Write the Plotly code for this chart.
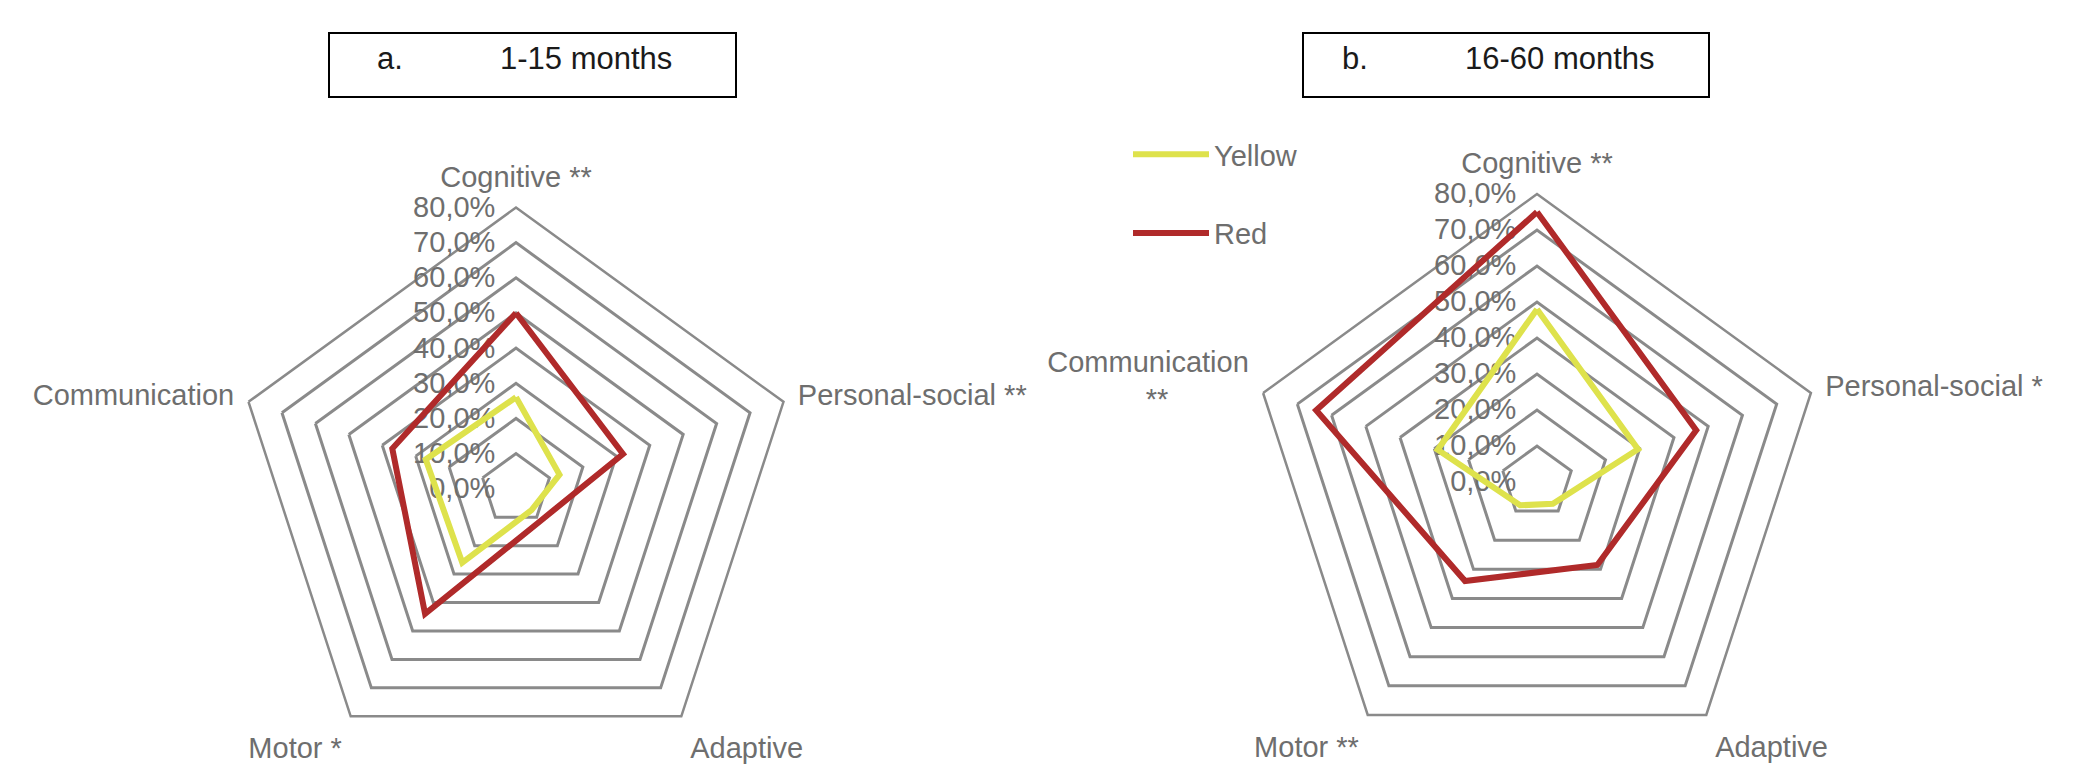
import plotly.graph_objects as go

# ---- data ----
cats_a = ["Cognitive **", "Personal-social **", "Adaptive", "Motor *", "Communication"]
yellow_a = [26, 13, 7.5, 26, 27]
red_a = [50, 32, 11.5, 44, 37]

NB = "\u00a0"
cats_b = ["Cognitive **", "Personal-social *", "Adaptive", "Motor **",
          "Communication<br>**" + NB * 10]
yellow_b = [48, 29.5, 7.5, 8, 29]
red_b = [75, 46.5, 28.5, 34, 64.5]

tick_vals = [0, 10, 20, 30, 40, 50, 60, 70, 80]
tick_text = ["0,0%", "10,0%", "20,0%", "30,0%", "40,0%", "50,0%", "60,0%", "70,0%", "80,0%"]
series_names = ["Yellow", "Red"]
panel_titles = [("a.", "1-15 months"), ("b.", "16-60 months")]

YELLOW = "#DEE24C"
RED = "#B02A2A"
GRID = "#8A8A8A"
LABEL = "#6E6E6E"
FONT = "Liberation Sans, Arial, sans-serif"

W, H = 2091, 770

def close(v):
    return list(v) + [v[0]]

fig = go.Figure()
for sub, cats, ys, rs, show in [("polar", cats_a, yellow_a, red_a, False),
                                ("polar2", cats_b, yellow_b, red_b, True)]:
    fig.add_trace(go.Scatterpolar(r=close(ys), theta=close(cats), mode="lines",
                                  line=dict(color=YELLOW, width=6), name=series_names[0],
                                  subplot=sub, showlegend=show, legendgroup="y"))
    fig.add_trace(go.Scatterpolar(r=close(rs), theta=close(cats), mode="lines",
                                  line=dict(color=RED, width=6), name=series_names[1],
                                  subplot=sub, showlegend=show, legendgroup="r"))

def polar_layout(cx, cy_top, R):
    cy = H - cy_top
    return dict(
        domain=dict(x=[(cx - R) / W, (cx + R) / W], y=[max(0, (cy - R)) / H, (cy + R) / H]),
        gridshape="linear",
        bgcolor="white",
        radialaxis=dict(range=[0, 80], tickvals=tick_vals, ticktext=tick_text,
                        angle=90, tickangle=90, side="counterclockwise", showline=False,
                        ticks="outside", ticklen=10, tickcolor="rgba(0,0,0,0)",
                        gridcolor=GRID, gridwidth=2.5, layer="below traces",
                        tickfont=dict(size=29, color=LABEL, family=FONT)),
        angularaxis=dict(rotation=90, direction="clockwise", showgrid=False,
                         showline=True, linecolor=GRID, linewidth=2.5,
                         ticks="outside", ticklen=8, tickcolor="rgba(0,0,0,0)",
                         layer="below traces",
                         tickfont=dict(size=29, color=LABEL, family=FONT)),
    )

fig.update_layout(
    width=W, height=H, autosize=False,
    margin=dict(l=0, r=0, t=0, b=0),
    paper_bgcolor="white", plot_bgcolor="white",
    polar=polar_layout(516, 489, 281.5),
    polar2=polar_layout(1537, 482, 288),
    legend=dict(x=1128 / W, y=1 - 129 / H, xanchor="left", yanchor="top",
                font=dict(size=29, color=LABEL, family=FONT),
                tracegroupgap=38, itemwidth=76, bgcolor="rgba(0,0,0,0)"),
)

# title boxes
boxes = [(329, 736, 33, 97, 375, 498), (1303, 1709, 33, 97, 1340, 1463)]
for (x0, x1, y0, y1, xl, xt), (lab, txt) in zip(boxes, panel_titles):
    fig.add_shape(type="rect", xref="paper", yref="paper",
                  x0=x0 / W, x1=x1 / W, y0=1 - y0 / H, y1=1 - y1 / H,
                  line=dict(color="black", width=2), fillcolor="rgba(0,0,0,0)")
    fig.add_annotation(xref="paper", yref="paper", x=xl / W, y=1 - 59 / H,
                       xanchor="left", yanchor="middle", showarrow=False, text=lab,
                       font=dict(size=31, color="#1A1A1A", family=FONT))
    fig.add_annotation(xref="paper", yref="paper", x=xt / W, y=1 - 59 / H,
                       xanchor="left", yanchor="middle", showarrow=False, text=txt,
                       font=dict(size=31, color="#1A1A1A", family=FONT))

fig.write_html("out.html", config={"displayModeBar": False},
               post_script="document.body.style.margin='0';document.body.style.overflow='hidden';")
